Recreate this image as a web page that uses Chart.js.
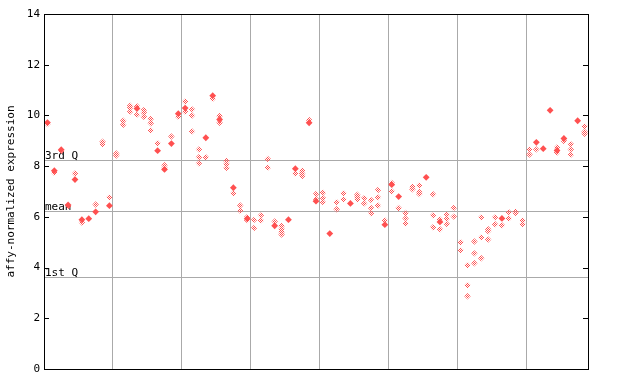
<!DOCTYPE html>
<html>
<head>
<meta charset="utf-8">
<script src="https://cdn.jsdelivr.net/npm/chart.js@4/dist/chart.umd.min.js"></script>
<style>
  html, body { margin: 0; padding: 0; background: #fff; }
  #wrap { width: 640px; height: 384px; }
</style>
</head>
<body>
<div id="wrap"><canvas id="myChart" width="640" height="384"></canvas></div>
<script>
// chart values
var yTicks = [0, 2, 4, 6, 8, 10, 12, 14];
var groupBreaks = [9.5, 19.5, 29.5, 39.5, 49.5, 59.5, 69.5];
var refLabels = ['1st Q', 'mean', '3rd Q'];
var refValues = [3.62, 6.22, 8.24];
var yTitle = 'affy-normalized expression';

// one solid marker per sample (null = none)
var filledValues = [
  9.72, 7.82, 8.65, 6.47, 7.47, 5.89, 5.93, 6.20, null, 6.44,
  null, null, null, 10.27, null, null, 8.61, 7.87, 8.89, 10.07,
  10.29, null, null, 9.12, 10.78, 9.84, null, 7.15, null, 5.93,
  null, null, null, 5.65, null, 5.89, 7.90, null, 9.71, 6.62,
  null, 5.34, null, null, 6.53, null, null, null, null, 5.69,
  7.27, 6.80, null, null, null, 7.56, null, 5.80, null, null,
  null, null, null, null, null, null, 5.94, null, null, null,
  null, 8.94, 8.69, 10.20, 8.62, 9.09, null, 9.79, null
];

// checkered replicate markers per sample
var replicateValues = [
  [9.66], [7.74], [8.60], [6.42], [7.71], [5.78], [], [6.49], [8.96, 8.86], [6.77],
  [8.50, 8.42], [9.79, 9.63], [10.38, 10.30, 10.15], [10.36, 10.03], [10.21, 10.11, 9.95], [9.86, 9.69, 9.41], [8.90], [8.04, 7.93], [9.17], [9.95],
  [10.55, 10.15], [10.24, 10.00, 9.37], [8.66, 8.35, 8.11], [8.35], [10.66], [9.98, 9.71], [8.20, 8.08, 7.93], [6.93], [6.45, 6.24], [5.99, 5.87],
  [5.88, 5.56], [6.06, 5.86], [8.28, 7.94], [5.82], [5.64, 5.52, 5.40, 5.30], [], [7.71], [7.82, 7.71, 7.61], [9.82], [6.90, 6.70],
  [6.95, 6.74, 6.58], [], [6.58, 6.30], [6.93, 6.69], [], [6.87, 6.78, 6.69], [6.74, 6.53], [6.66, 6.35, 6.14], [7.06, 6.77, 6.45], [5.86],
  [7.34, 7.01], [6.35], [6.15, 5.94, 5.74], [7.19, 7.09], [7.24, 6.98, 6.90], [], [6.89, 6.06, 5.59], [5.90, 5.51], [6.09, 5.93, 5.72], [6.35, 6.01],
  [5.00, 4.68], [4.09, 3.30, 2.87], [5.03, 4.56, 4.17], [5.98, 5.19, 4.37], [5.51, 5.43, 5.11], [5.98, 5.71], [5.67], [6.18, 5.94], [6.20, 6.15], [5.86, 5.71],
  [8.66, 8.46], [8.66], [], [], [8.74, 8.54], [8.99], [8.87, 8.66, 8.45], [], [9.57, 9.36, 9.28]
];

var RED = '#ff5050';
var FONT = { family: '"DejaVu Sans Mono", monospace', size: 11 };

// checkered fill for the replicate diamonds
var pc = document.createElement('canvas');
pc.width = 2; pc.height = 2;
var pctx = pc.getContext('2d');
pctx.fillStyle = RED;
pctx.fillRect(0, 0, 1, 1);
pctx.fillRect(1, 1, 1, 1);
var checker = pctx.createPattern(pc, 'repeat');

var filledPts = [];
filledValues.forEach(function (v, i) {
  if (v !== null) filledPts.push({ x: i, y: v });
});
var repPts = [];
replicateValues.forEach(function (list, i) {
  list.forEach(function (v) { repPts.push({ x: i, y: v }); });
});

var frame = {
  id: 'frame',
  beforeDatasetsDraw: function (chart) {
    var ctx = chart.ctx, a = chart.chartArea, y = chart.scales.y;
    ctx.save();
    ctx.strokeStyle = '#aaaaaa';
    ctx.lineWidth = 1;
    ctx.font = '11px "DejaVu Sans Mono", monospace';
    ctx.fillStyle = '#000';
    ctx.textBaseline = 'alphabetic';
    refValues.forEach(function (v, k) {
      var py = Math.round(y.getPixelForValue(v)) + 0.5;
      ctx.beginPath();
      ctx.moveTo(a.left, py);
      ctx.lineTo(a.right, py);
      ctx.stroke();
      ctx.fillText(refLabels[k], a.left + 1, py - 1.5);
    });
    ctx.restore();
  },
  afterDraw: function (chart) {
    var ctx = chart.ctx, a = chart.chartArea, y = chart.scales.y;
    ctx.save();
    ctx.strokeStyle = '#000';
    ctx.lineWidth = 1;
    ctx.strokeRect(Math.round(a.left) + 0.5, Math.round(a.top) + 0.5,
      Math.round(a.right - a.left), Math.round(a.bottom - a.top));
    yTicks.forEach(function (v) {
      var py = Math.round(y.getPixelForValue(v)) + 0.5;
      ctx.beginPath();
      ctx.moveTo(a.left, py); ctx.lineTo(a.left + 5, py);
      ctx.moveTo(a.right - 5, py); ctx.lineTo(a.right, py);
      ctx.stroke();
    });
    ctx.restore();
  }
};

var ctx = document.getElementById('myChart').getContext('2d');
var myChart = new Chart(ctx, {
  type: 'scatter',
  data: {
    datasets: [{
      data: repPts,
      pointStyle: 'rectRot',
      pointRadius: 3.2,
      pointBorderWidth: 0,
      backgroundColor: checker,
      borderColor: 'rgba(0,0,0,0)'
    }, {
      data: filledPts,
      pointStyle: 'rectRot',
      pointRadius: 3.4,
      pointBorderWidth: 0,
      backgroundColor: RED,
      borderColor: RED
    }]
  },
  options: {
    responsive: false,
    animation: false,
    events: [],
    layout: { padding: { top: 14, right: 52, bottom: 15, left: 0 } },
    plugins: { legend: { display: false }, tooltip: { enabled: false } },
    scales: {
      x: {
        type: 'linear',
        min: -0.5,
        max: 78.5,
        afterBuildTicks: function (s) {
          s.ticks = groupBreaks.map(function (v) { return { value: v }; });
        },
        afterFit: function (s) { s.height = 0; },
        grid: { color: '#aaaaaa', lineWidth: 1, drawTicks: false },
        border: { display: false },
        ticks: { display: false }
      },
      y: {
        min: 0,
        max: 14,
        afterBuildTicks: function (s) {
          s.ticks = yTicks.map(function (v) { return { value: v }; });
        },
        afterFit: function (s) { s.width = 44; },
        grid: { display: false, drawTicks: false },
        border: { display: true, color: '#000' },
        ticks: { color: '#000', font: FONT, padding: 4 },
        title: {
          display: true,
          text: yTitle,
          color: '#000',
          font: FONT,
          padding: { top: 5, bottom: 0 }
        }
      }
    }
  },
  plugins: [frame]
});
</script>
</body>
</html>
